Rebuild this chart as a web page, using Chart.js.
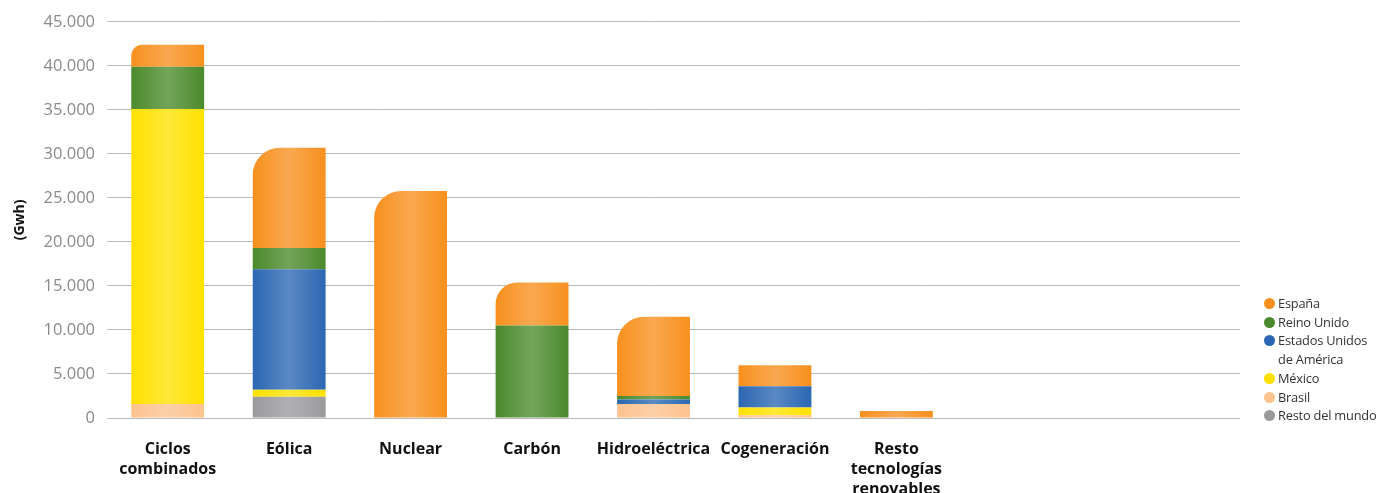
<!DOCTYPE html>
<html>
<head>
<meta charset="utf-8">
<script src="https://cdn.jsdelivr.net/npm/chart.js@4/dist/chart.umd.min.js"></script>
<style>
  body { margin: 0; background: #fff; }
  #wrap { position: relative; width: 1381px; height: 493px; overflow: hidden; }
  #legend { position: absolute; left: 1264px; top: 294px; width: 125px; font-family: "Open Sans", "Noto Sans", sans-serif; font-size: 12.8px; letter-spacing: -0.2px; color: #333; line-height: 18.7px; }
  #legend .item { display: flex; align-items: flex-start; white-space: nowrap; }
  #legend .dot { width: 11px; height: 11px; border-radius: 50%; margin: 4px 3px 0 0; flex: none; }
</style>
</head>
<body>
<div id="wrap">
  <canvas id="chart"></canvas>
  <div id="legend"></div>
</div>
<script>
// -----------------------------
// Data (GWh)
// -----------------------------
const categories = [
  ['Ciclos', 'combinados'], 'Eólica', 'Nuclear', 'Carbón', 'Hidroeléctrica',
  'Cogeneración', ['Resto', 'tecnologías', 'renovables'], '', ''
];
const restoMundo = [0, 2400, 0, 0, 0, 0, 0];
const brasil     = [1600, 0, 0, 0, 1600, 300, 0];
const mexico     = [33500, 800, 0, 0, 0, 900, 0];
const eeuu       = [0, 13700, 0, 0, 500, 2400, 0];
const reinoUnido = [4800, 2400, 0, 10500, 400, 0, 0];
const espana     = [2500, 11400, 25800, 4900, 9000, 2400, 800];
const yTicks = [0, 5000, 10000, 15000, 20000, 25000, 30000, 35000, 40000, 45000];

const series = [
  { label: 'Resto del mundo', data: restoMundo, color: '#9a9a9c' },
  { label: 'Brasil', data: brasil, color: '#fdc28e' },
  { label: 'México', data: mexico, color: '#ffe100' },
  { label: ['Estados Unidos', 'de América'], data: eeuu, color: '#2b67b2' },
  { label: 'Reino Unido', data: reinoUnido, color: '#4b8a2c' },
  { label: 'España', data: espana, color: '#f7901e' }
];

const totals = espana.map((_, i) => series.reduce((s, d) => s + d.data[i], 0));

function lighten(hex, amt) {
  const n = parseInt(hex.slice(1), 16);
  const r = (n >> 16) & 255, g = (n >> 8) & 255, b = n & 255;
  const f = c => Math.round(c + (255 - c) * amt);
  return `rgb(${f(r)},${f(g)},${f(b)})`;
}

// Horizontal shading: darker edges, lighter middle
function barFill(color) {
  return ctx => {
    const chart = ctx.chart;
    const xs = chart.scales && chart.scales.x;
    if (!chart.chartArea || !xs || ctx.type !== 'data') return color;
    const cx = xs.getPixelForValue(ctx.dataIndex);
    const half = (xs.width / categories.length) * 0.3;
    const g = chart.ctx.createLinearGradient(cx - half, 0, cx + half, 0);
    g.addColorStop(0, color);
    g.addColorStop(0.5, lighten(color, 0.22));
    g.addColorStop(1, color);
    return g;
  };
}

function topDataset(i) {
  for (let d = series.length - 1; d >= 0; d--) if (series[d].data[i] > 0) return d;
  return -1;
}

const gridColor = '#b8b8b8';

// Grid lines run a bit further right than the last category slot
const extendGrid = {
  id: 'extendGrid',
  afterDraw(chart) {
    const { ctx, chartArea, scales } = chart;
    ctx.save();
    ctx.strokeStyle = gridColor;
    ctx.lineWidth = 1;
    scales.y.ticks.forEach(t => {
      const y = Math.round(scales.y.getPixelForValue(t.value) - 0.5) + 0.5;
      ctx.beginPath();
      ctx.moveTo(chartArea.right, y);
      ctx.lineTo(chartArea.right + 40, y);
      ctx.stroke();
    });
    ctx.restore();
  }
};

const fontFamily = '"Open Sans", "Noto Sans", sans-serif';

new Chart(document.getElementById('chart'), {
  type: 'bar',
  data: {
    labels: categories,
    datasets: series.map(s => ({
      label: s.label,
      data: s.data,
      backgroundColor: barFill(s.color),
      borderWidth: 0,
      borderSkipped: 'start',
      borderRadius: ctx => (ctx.datasetIndex === topDataset(ctx.dataIndex) && totals[ctx.dataIndex] > 10000)
        ? { topLeft: 27, topRight: 0, bottomLeft: 0, bottomRight: 0 } : 0,
      categoryPercentage: 1,
      barPercentage: 0.6
    }))
  },
  options: {
    responsive: true,
    maintainAspectRatio: false,
    animation: false,
    layout: { padding: { top: 14, right: 181, left: 0, bottom: 0 } },
    plugins: { legend: { display: false }, tooltip: { enabled: false } },
    scales: {
      x: {
        stacked: true,
        grid: { display: false },
        border: { display: false },
        ticks: {
          color: '#111',
          padding: 13,
          maxRotation: 0,
          autoSkip: false,
          font: { family: fontFamily, size: 16, weight: 'bold', lineHeight: 1.25 }
        },
        afterFit: s => { s.height = 75; }
      },
      y: {
        stacked: true,
        min: 0,
        max: 45000,
        afterBuildTicks: s => { s.ticks = yTicks.map(v => ({ value: v })); },
        grid: { color: gridColor, lineWidth: 1, drawTicks: false },
        border: { display: false },
        ticks: {
          color: '#8a8a8a',
          padding: 12,
          font: { family: fontFamily, size: 16.5 },
          callback: v => v.toLocaleString('de-DE')
        },
        title: {
          display: true,
          text: '(Gwh)',
          color: '#111',
          padding: { top: 12, bottom: 0 },
          font: { family: fontFamily, size: 14, weight: 'bold' }
        },
        afterFit: s => { s.width = 107; }
      }
    }
  },
  plugins: [extendGrid]
});

// Legend (top-most stack first)
const legendEl = document.getElementById('legend');
series.slice().reverse().forEach(s => {
  const item = document.createElement('div');
  item.className = 'item';
  const text = Array.isArray(s.label) ? s.label.join('<br>') : s.label;
  item.innerHTML = `<span class="dot" style="background:${s.color}"></span><span>${text}</span>`;
  legendEl.appendChild(item);
});
</script>
</body>
</html>
